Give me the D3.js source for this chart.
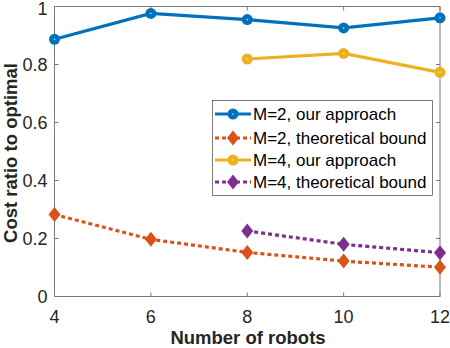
<!DOCTYPE html>
<html>
<head>
<meta charset="utf-8">
<script src="https://d3js.org/d3.v7.min.js"></script>
<style>
  body { margin: 0; background: #fff; }
  svg { font-family: "Liberation Sans", Arial, Helvetica, sans-serif; }
</style>
</head>
<body>
<svg class="chart" width="450" height="348"></svg>
<script>
var svg = d3.select(".chart"),
    width = +svg.attr("width"),
    height = +svg.attr("height");

// data
var robotsM2 = [4, 6, 8, 10, 12];
var robotsM4 = [8, 10, 12];
var m2Approach = [0.887, 0.976, 0.955, 0.926, 0.961];
var m2Bound = [0.283, 0.197, 0.152, 0.122, 0.101];
var m4Approach = [0.819, 0.838, 0.773];
var m4Bound = [0.226, 0.180, 0.151];
var xTicks = [4, 6, 8, 10, 12];
var yTicks = [0, 0.2, 0.4, 0.6, 0.8, 1];

var series = [
  {name: "M=2, our approach", xs: robotsM2, ys: m2Approach, color: "#0072BD", marker: "circle", dash: null},
  {name: "M=2, theoretical bound", xs: robotsM2, ys: m2Bound, color: "#D95319", marker: "diamond", dash: "4,3"},
  {name: "M=4, our approach", xs: robotsM4, ys: m4Approach, color: "#EDB120", marker: "circle", dash: null},
  {name: "M=4, theoretical bound", xs: robotsM4, ys: m4Bound, color: "#7E2F8E", marker: "diamond", dash: "4,3"}
];

var margin = {left: 54.5, right: 10, top: 6.5, bottom: 51.5};
var x = d3.scaleLinear().domain([4, 12]).range([margin.left, width - margin.right]);
var y = d3.scaleLinear().domain([0, 1]).range([height - margin.bottom, margin.top]);

var axisColor = "#7a7a7a", textColor = "#262626";

// box
svg.append("rect")
  .attr("x", x(4)).attr("y", y(1))
  .attr("width", x(12) - x(4)).attr("height", y(0) - y(1))
  .attr("fill", "none").attr("stroke", axisColor).attr("stroke-width", 1);

// ticks (inward, mirrored)
var tl = 4;
xTicks.forEach(function(t) {
  svg.append("line").attr("x1", x(t)).attr("x2", x(t)).attr("y1", y(0)).attr("y2", y(0) - tl).attr("stroke", axisColor);
  svg.append("line").attr("x1", x(t)).attr("x2", x(t)).attr("y1", y(1)).attr("y2", y(1) + tl).attr("stroke", axisColor);
  svg.append("text").attr("x", x(t)).attr("y", 322.5)
    .attr("text-anchor", "middle").attr("font-size", 18).attr("fill", textColor).text(t);
});
yTicks.forEach(function(t) {
  svg.append("line").attr("x1", x(4)).attr("x2", x(4) + tl).attr("y1", y(t)).attr("y2", y(t)).attr("stroke", axisColor);
  svg.append("line").attr("x1", x(12)).attr("x2", x(12) - tl).attr("y1", y(t)).attr("y2", y(t)).attr("stroke", axisColor);
  svg.append("text").attr("x", x(4) - 7).attr("y", Math.max(y(t), 8.5)).attr("dy", "0.35em")
    .attr("text-anchor", "end").attr("font-size", 18).attr("fill", textColor).text(d3.format("~g")(t));
});

// axis labels
svg.append("text").attr("x", 248).attr("y", 344)
  .attr("text-anchor", "middle").attr("font-size", 18.5).attr("font-weight", "bold")
  .attr("fill", textColor).text("Number of robots");
svg.append("text").attr("transform", "translate(16.5,153) rotate(-90)")
  .attr("text-anchor", "middle").attr("font-size", 18.5).attr("font-weight", "bold")
  .attr("fill", textColor).text("Cost ratio to optimal");

function drawMarker(g, type, cx, cy, color) {
  if (type == "circle") {
    g.append("circle").attr("cx", cx).attr("cy", cy).attr("r", 5.5).attr("fill", color);
    g.append("circle").attr("cx", cx).attr("cy", cy).attr("r", 0.8).attr("fill", "#fff").attr("opacity", 0.8);
  } else {
    var s = 7.5;
    g.append("path")
      .attr("d", "M" + cx + "," + (cy - s) + "L" + (cx + s * 0.8) + "," + cy + "L" + cx + "," + (cy + s) + "L" + (cx - s * 0.8) + "," + cy + "Z")
      .attr("fill", color);
  }
}

var line = d3.line().x(function(d) { return x(d[0]); }).y(function(d) { return y(d[1]); });

series.forEach(function(s) {
  var pts = s.xs.map(function(v, i) { return [v, s.ys[i]]; });
  var g = svg.append("g");
  g.append("path").attr("d", line(pts)).attr("fill", "none")
    .attr("stroke", s.color).attr("stroke-width", 3.2)
    .attr("stroke-dasharray", s.dash);
  pts.forEach(function(p) { drawMarker(g, s.marker, x(p[0]), y(p[1]), s.color); });
});

// legend
var lg = svg.append("g");
lg.append("rect").attr("x", 212.5).attr("y", 100.5).attr("width", 220).attr("height", 95)
  .attr("fill", "#fff").attr("stroke", "#262626").attr("stroke-width", 0.6);
var rowY = [114, 138, 160, 182];
series.forEach(function(s, i) {
  var ry = rowY[i];
  lg.append("line").attr("x1", 215).attr("x2", 251).attr("y1", ry).attr("y2", ry)
    .attr("stroke", s.color).attr("stroke-width", 3.2).attr("stroke-dasharray", s.dash);
  drawMarker(lg, s.marker, 233, ry, s.color);
  lg.append("text").attr("x", 253).attr("y", ry).attr("dy", "0.35em")
    .attr("font-size", 17).attr("fill", "#000").text(s.name);
});
</script>
</body>
</html>
